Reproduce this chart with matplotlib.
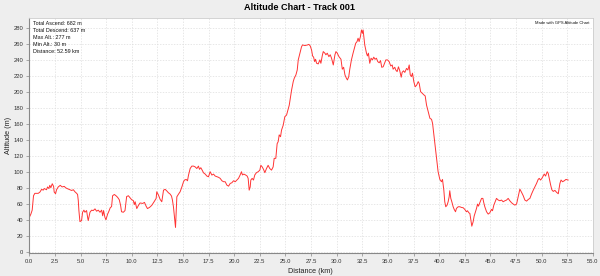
import matplotlib
matplotlib.use('Agg')
import matplotlib.pyplot as plt
import numpy as np

plt.rcParams['font.family'] = ['Liberation Sans', 'DejaVu Sans']

# profile (km, m)
dist_km = [
    0.0, 0.15, 0.28, 0.41, 0.54, 0.87, 1.03, 1.2, 1.36, 1.46, 1.68, 1.78, 1.91, 2.0, 2.1, 2.24,
    2.37, 2.43, 2.56, 2.66, 2.82, 3.02, 3.2, 3.41, 3.54, 3.74, 3.97, 4.13, 4.3, 4.45, 4.62,
    4.71, 4.78, 4.84, 4.94, 5.1, 5.2, 5.33, 5.43, 5.59, 5.69, 5.75, 5.92, 6.08, 6.24, 6.41,
    6.57, 6.73, 6.9, 7.06, 7.16, 7.25, 7.38, 7.48, 7.64, 7.77, 7.9, 8.03, 8.13, 8.3, 8.46,
    8.62, 8.78, 8.91, 9.0, 9.18, 9.34, 9.5, 9.67, 9.83, 9.99, 10.15, 10.25,
    10.33, 10.49, 10.65, 10.81, 11.07, 11.24, 11.4, 11.53, 11.73, 11.95, 12.18, 12.38, 12.44,
    12.6, 12.77, 12.93, 13.1, 13.26, 13.42, 13.58, 13.75, 13.88, 13.97, 14.07, 14.17, 14.27,
    14.33, 14.4, 14.56, 14.72, 14.89, 15.05, 15.15, 15.31, 15.44, 15.54, 15.7, 15.86, 16.03,
    16.19, 16.35, 16.51, 16.61, 16.74, 16.87, 17.0, 17.17, 17.33, 17.49, 17.65, 17.82, 17.98,
    18.14, 18.31, 18.47, 18.63, 18.8, 18.96, 19.12, 19.28, 19.45, 19.61, 19.77, 19.93, 20.1,
    20.26, 20.42, 20.58,
    20.71, 20.8, 20.94, 21.1, 21.26, 21.36, 21.46, 21.56, 21.62, 21.75, 21.88, 22.01, 22.17,
    22.34, 22.5, 22.6, 22.73, 22.86, 22.99, 23.15, 23.31, 23.47, 23.64, 23.8, 23.9, 24.06,
    24.19, 24.29, 24.39, 24.52, 24.62, 24.78, 24.94, 25.11, 25.27, 25.37, 25.5, 25.6, 25.76,
    25.86, 26.02, 26.15, 26.25, 26.41, 26.57, 26.67, 26.9, 27.16, 27.29, 27.42, 27.55, 27.65,
    27.75, 27.85, 27.94, 28.04, 28.2, 28.36, 28.46, 28.59, 28.69, 28.85, 28.95, 29.08, 29.24,
    29.37, 29.5, 29.67, 29.83, 29.93, 30.06, 30.22, 30.42, 30.55, 30.68, 30.81,
    30.95, 31.05, 31.18, 31.28, 31.44, 31.6, 31.77, 31.86, 31.99, 32.09, 32.19, 32.32, 32.42,
    32.52, 32.58, 32.65, 32.74, 32.91, 33.0, 33.1, 33.23, 33.36, 33.49, 33.62, 33.75, 33.88,
    34.01, 34.15, 34.28, 34.4, 34.54, 34.67, 34.8, 34.96, 35.12, 35.28, 35.42, 35.51, 35.67,
    35.77, 35.9, 36.03, 36.16, 36.3, 36.39, 36.52, 36.65, 36.82, 36.95, 37.08, 37.18, 37.3,
    37.4, 37.53, 37.66, 37.8, 37.96, 38.06, 38.19, 38.35, 38.51, 38.64, 38.77, 38.93, 39.1,
    39.26, 39.36, 39.49,
    39.58, 39.74, 39.9, 40.07, 40.23, 40.33, 40.46, 40.55, 40.65, 40.78, 40.88, 40.98, 41.04,
    41.14, 41.24, 41.37, 41.47, 41.6, 41.69, 41.86, 42.02, 42.18, 42.35, 42.5, 42.67, 42.77,
    42.9, 43.0, 43.1, 43.19, 43.32, 43.42, 43.55, 43.65, 43.75, 43.84, 43.97, 44.14, 44.27,
    44.36, 44.46, 44.63, 44.79, 44.95, 45.11, 45.21, 45.34, 45.47, 45.6, 45.77, 45.93, 46.09,
    46.25, 46.42, 46.58, 46.74, 46.9, 47.07, 47.23, 47.39, 47.56, 47.72, 47.88, 48.05, 48.21,
    48.37, 48.54, 48.7, 48.86, 49.02, 49.19, 49.35, 49.51, 49.67, 49.77, 49.9, 50.03, 50.16,
    50.26, 50.39, 50.55, 50.65, 50.75, 50.88, 51.0, 51.14, 51.3, 51.47, 51.63, 51.79, 51.9,
    52.05, 52.22, 52.38, 52.59,
]
alt_m = [
    43, 47, 52, 70, 73, 73, 74.5, 78, 77, 79, 77.5, 81, 79, 83, 80, 85,
    81.7, 74.6, 72.5, 77.5, 81, 83, 81, 81.7, 80, 78.7, 77.5, 76.6, 77.5, 75, 73,
    71.6, 64, 51.5, 37.7, 39, 49.4, 52, 49.4, 51.5, 43, 39, 49.4, 52, 51.5, 53.6,
    50.7, 52, 49.4, 52, 45, 51.5, 43, 40, 47, 50.7, 55, 56.5, 70, 71.6, 70,
    68, 65, 58, 50, 49.4, 51.5, 69, 70, 67.5, 65, 64, 59,
    62.5, 54, 58, 61, 60.4, 61.7, 57, 54, 55.4, 58, 62.5, 66.7, 75,
    71, 65.4, 62.5, 77, 78, 76, 73.7, 72, 69.6, 64.6, 56, 43.7, 30.4,
    48, 68.7, 72, 75, 81, 87.5, 89.6, 90.4, 88.7, 95.8, 104, 107, 107,
    106, 104, 107, 103, 105, 102, 98.7, 97, 94.6, 93.7, 100, 95.8, 97,
    94.6, 93.7, 93, 91.7, 88.7, 87.5, 87.5, 83.3, 82, 85.4, 86.2, 88.7, 87.5,
    89.6, 91.7, 96,
    100, 96, 97, 96, 94.6, 91.7, 77, 81, 89.6, 91.7, 89.6, 96, 98.8,
    100, 102, 108, 106, 103, 98.8, 104, 108, 104, 102, 106, 116.7, 116.7,
    135, 137.5, 146, 143.7, 152, 158, 168.7, 170.8, 178, 183, 193.7, 202, 212.5,
    216.7, 220.8, 227, 239.6, 248, 256, 258.3, 257.5, 258.3, 259, 257, 252, 244.6,
    243, 237.5, 240.4, 235.4, 234.6, 239.6, 235.4, 244.6, 250, 248, 246, 248, 243.7,
    246, 241.7, 233.3, 246, 250, 248, 243.7, 240.4, 228, 230.4, 220.8,
    216.7, 214.6, 218.75, 228, 239.6, 248, 256, 260.4, 262.5, 266.7, 262.5, 268.75, 277,
    272.9, 277, 268.75, 258.3, 248, 244.6, 248, 235.4, 241.7, 239.6, 243, 240.4, 241.7,
    237.5, 236, 238.75, 230.4, 231, 235.4, 239.6, 239.6, 237.5, 232, 233.3, 228, 230.4,
    227, 225, 231, 226, 218, 224, 226, 224, 229, 227, 233.3, 221, 218.75,
    223, 212.5, 206, 208, 212.5, 210, 200, 198, 196, 194.6, 183.3, 175, 166.7,
    165.4, 160.4, 145.8,
    135, 118.75, 100, 90.4, 87.5, 90.4, 77, 62.5, 56.25, 58.3, 62.5, 68.75, 76.25,
    66.7, 62.5, 56.25, 53, 50, 54.2, 56.25, 56.25, 55.4, 55, 53, 50, 51.25,
    48.75, 47.9, 39.6, 32, 37.5, 44.6, 50, 54.2, 59.6, 57, 61.25, 66.7, 66.7,
    61.25, 56.25, 50, 47.1, 48.75, 53, 51.25, 58.3, 62.5, 66.7, 64.6, 63.75, 64.6,
    62.5, 63.75, 64.6, 66.7, 63.75, 61.25, 59.6, 58.3, 59.6, 68.75, 78.3, 74.2, 70,
    64.6, 63.3, 65.4, 66.7, 72.1, 77, 81.25, 85.4, 90.4, 91.7, 89.6, 91.7, 94.6,
    97.1, 94.6, 100, 97.9, 91.7, 83.75, 77.5, 75.4, 76.7, 74.2, 72.5, 85.4, 89.6,
    87.5, 88.75, 90.4, 89.6,
]

stats_lines = ['Total Ascend: 682 m', 'Total Descend: 637 m', 'Max Alt.: 277 m',
               'Min Alt.: 30 m', 'Distance: 52.59 km']
x_ticks = np.arange(0, 55.01, 2.5)
y_ticks = np.arange(0, 281, 20)

fig = plt.figure(figsize=(6.0, 2.76), dpi=100, facecolor='#EEEEEE')
ax = fig.add_axes([0.048, 0.083, 0.94, 0.852])
ax.set_facecolor('white')

ax.plot(dist_km, alt_m, color='#FF3333', linewidth=0.7)

ax.set_xlim(-0.05, 55.0)
ax.set_ylim(-1.6, 292)
ax.set_xticks(x_ticks)
ax.set_xticklabels([f'{v:.1f}' for v in x_ticks])
ax.set_yticks(y_ticks)
ax.tick_params(labelsize=4.2, length=2, width=0.5, color='#888888', pad=2, labelcolor='#333333')

ax.grid(True, color='#DDDDDD', linestyle=(0, (2, 2)), linewidth=0.5)
for side in ['top', 'right']:
    ax.spines[side].set_color('#CCCCCC')
    ax.spines[side].set_linewidth(0.6)
for side in ['left', 'bottom']:
    ax.spines[side].set_color('#888888')
    ax.spines[side].set_linewidth(0.8)

ax.set_xlabel('Distance (km)', fontsize=5.2, labelpad=3, color='#222222')
ax.set_ylabel('Altitude (m)', fontsize=5.2, labelpad=1, color='#222222')
fig.suptitle('Altitude Chart - Track 001', fontsize=6.6, fontweight='bold', y=0.99)

ax.text(0.008, 0.985, '\n'.join(stats_lines), transform=ax.transAxes, fontsize=3.9,
        va='top', ha='left', linespacing=1.45, color='#111111')
ax.text(0.995, 0.985, 'Made with GPS Altitude Chart', transform=ax.transAxes, fontsize=3.0,
        va='top', ha='right', color='#111111')

fig.savefig('out.png', dpi=100, facecolor=fig.get_facecolor())
